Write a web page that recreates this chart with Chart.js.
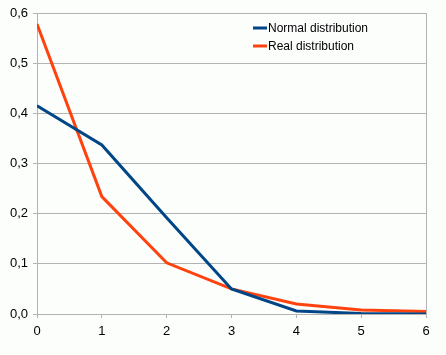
<!DOCTYPE html>
<html>
<head>
<meta charset="utf-8">
<script src="https://cdn.jsdelivr.net/npm/chart.js@4/dist/chart.umd.min.js"></script>
<style>
html,body{margin:0;padding:0;background:#fcfefc;}
#wrap{width:446px;height:355px;}
</style>
</head>
<body>
<div id="wrap"><canvas id="c" width="446" height="355"></canvas></div>
<script>
const categories = [0, 1, 2, 3, 4, 5, 6];
const normalValues = [0.415, 0.337, 0.192, 0.050, 0.006, 0.001, 0.000];
const realValues = [0.578, 0.234, 0.102, 0.050, 0.020, 0.008, 0.005];
const yTicks = [0, 0.1, 0.2, 0.3, 0.4, 0.5, 0.6];
const seriesLabels = ['Normal distribution', 'Real distribution'];
const seriesColors = ['#004586', '#ff420e'];

const legendPlugin = {
  id: 'insideLegend',
  afterDatasetsDraw(chart) {
    const ctx = chart.ctx;
    ctx.save();
    ctx.font = '12px "Liberation Sans", Arial, sans-serif';
    ctx.textBaseline = 'middle';
    chart.data.datasets.forEach((ds, i) => {
      const y = 28 + i * 18;
      ctx.strokeStyle = ds.borderColor;
      ctx.lineWidth = 3;
      ctx.beginPath();
      ctx.moveTo(253, y);
      ctx.lineTo(267, y);
      ctx.stroke();
      ctx.fillStyle = '#000';
      ctx.fillText(ds.label, 268, y + 1);
    });
    ctx.restore();
  }
};

new Chart(document.getElementById('c'), {
  type: 'line',
  data: {
    datasets: [
      { label: seriesLabels[0], data: categories.map((x, i) => ({x, y: normalValues[i]})),
        borderColor: seriesColors[0], borderWidth: 3, pointRadius: 0, tension: 0, fill: false },
      { label: seriesLabels[1], data: categories.map((x, i) => ({x, y: realValues[i]})),
        borderColor: seriesColors[1], borderWidth: 3, pointRadius: 0, tension: 0, fill: false }
    ]
  },
  options: {
    responsive: false,
    animation: false,
    layout: { padding: { left: 0, top: 13, right: 20, bottom: 0 } },
    plugins: { legend: { display: false }, tooltip: { enabled: false } },
    scales: {
      x: {
        type: 'linear', min: 0, max: 6,
        afterFit(s) { s.height = 41; },
        afterBuildTicks(s) { s.ticks = categories.map(v => ({value: v})); },
        grid: { display: true, drawOnChartArea: false, color: '#b3b3b3', tickLength: 4 },
        border: { color: '#b3b3b3' },
        ticks: { color: '#000', padding: 6, font: { family: '"Liberation Sans", Arial, sans-serif', size: 13 },
          callback: v => String(v), maxRotation: 0 }
      },
      y: {
        min: 0, max: 0.6,
        afterFit(s) { s.width = 37; },
        afterBuildTicks(s) { s.ticks = yTicks.map(v => ({value: v})); },
        grid: { color: '#b3b3b3', tickLength: 4 },
        border: { color: '#b3b3b3' },
        ticks: { color: '#000', padding: 5, font: { family: '"Liberation Sans", Arial, sans-serif', size: 13 },
          callback: v => v.toFixed(1).replace('.', ',') }
      }
    }
  },
  plugins: [legendPlugin, {
    id: 'rightBorder',
    afterDraw(chart) {
      const a = chart.chartArea, ctx = chart.ctx;
      ctx.save();
      ctx.strokeStyle = '#b3b3b3'; ctx.lineWidth = 1;
      ctx.beginPath(); ctx.moveTo(Math.round(a.right) + 0.5, a.top); ctx.lineTo(Math.round(a.right) + 0.5, a.bottom); ctx.stroke();
      ctx.restore();
    }
  }]
});
</script>
</body>
</html>
